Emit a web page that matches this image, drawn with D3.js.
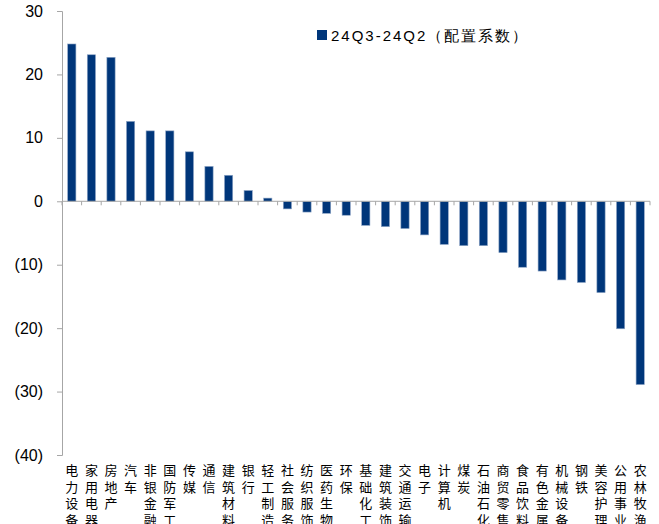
<!DOCTYPE html>
<html><head><meta charset="utf-8">
<script src="https://cdn.jsdelivr.net/npm/d3@7"></script>
<style>body{margin:0;background:#fff}</style>
</head><body>
<svg id="c" width="659" height="524"></svg>
<script>
const categories = ["电力设备","家用电器","房地产","汽车","非银金融","国防军工","传媒","通信","建筑材料","银行","轻工制造","社会服务","纺织服饰","医药生物","环保","基础化工","建筑装饰","交通运输","电子","计算机","煤炭","石油石化","商贸零售","食品饮料","有色金属","机械设备","钢铁","美容护理","公用事业","农林牧渔"];
const values = [24.8,23.1,22.7,12.6,11.1,11.1,7.8,5.5,4.1,1.7,0.5,-1.2,-1.7,-1.9,-2.2,-3.8,-4.0,-4.3,-5.3,-6.8,-7.0,-7.0,-8.1,-10.4,-11.0,-12.4,-12.8,-14.4,-20.1,-28.9];
const yTicks = [30,20,10,0,-10,-20,-30,-40];
const seriesName = "24Q3-24Q2（配置系数）";

const svg = d3.select("#c");
const y = d3.scaleLinear().domain([-40,30]).range([455,11]);
const x = d3.scaleBand().domain(categories).range([62,650]).paddingInner(0.58).paddingOuter(0.29);
const barColor = "#00367a";
const axisColor = "#a6a6a6";

// bars
svg.append("g").selectAll("rect").data(values).join("rect")
  .attr("x",(d,i)=>x(categories[i]))
  .attr("width",x.bandwidth())
  .attr("y",d=>y(Math.max(0,d)))
  .attr("height",d=>Math.abs(y(d)-y(0)))
  .attr("fill",barColor)
  .attr("stroke","#8fa6c6").attr("stroke-width",0.6);

// y axis
const yAxis = d3.axisLeft(y).tickValues(yTicks).tickSize(5).tickPadding(14)
  .tickFormat(d=> d<0 ? "("+Math.abs(d)+")" : d);
const gy = svg.append("g").attr("transform","translate(62,0)").call(yAxis);
gy.select(".domain").attr("stroke",axisColor);
gy.selectAll(".tick line").attr("stroke",axisColor);
gy.selectAll("text").attr("font-family","Liberation Sans, Arial, sans-serif").attr("font-size",16).attr("fill","#000");

// x axis at zero
const n = categories.length;
const boundaries = d3.range(n+1).map(i=>x.range()[0] + i*(x.range()[1]-x.range()[0])/n);
const gx = svg.append("g");
gx.append("line").attr("x1",x.range()[0]).attr("x2",x.range()[1]).attr("y1",y(0)).attr("y2",y(0)).attr("stroke",axisColor);
gx.selectAll("line.t").data(boundaries).join("line").attr("class","t")
  .attr("x1",d=>d).attr("x2",d=>d).attr("y1",y(0)).attr("y2",y(0)+4).attr("stroke",axisColor);

// category labels (vertical, one char per line)
const lab = svg.append("g").attr("font-family","Noto Sans CJK SC, sans-serif").attr("font-size",13).attr("fill","#000");
categories.forEach(c=>{
  const cx = x(c)+x.bandwidth()/2;
  [...c].forEach((ch,j)=>{
    lab.append("text").attr("x",cx).attr("y",475+j*16.5).attr("text-anchor","middle").text(ch);
  });
});

// legend
const lg = svg.append("g");
lg.append("rect").attr("x",317).attr("y",30).attr("width",10).attr("height",10).attr("fill",barColor);
lg.append("text").attr("x",331).attr("y",41).attr("font-family","Liberation Sans, Arial, sans-serif")
  .attr("font-size",15).style("letter-spacing","2px").attr("fill","#000").text(seriesName);
</script>
</body></html>
